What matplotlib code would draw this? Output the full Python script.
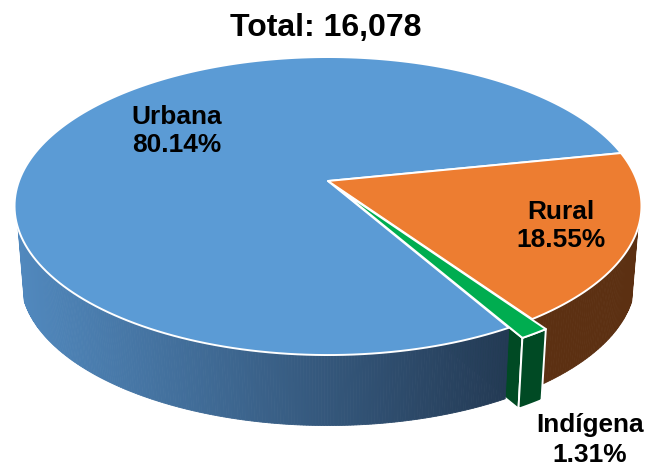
import numpy as np
import matplotlib
matplotlib.use("Agg")
import matplotlib.pyplot as plt

categories = ["Urbana", "Rural", "Indígena"]
shares = [80.14, 18.55, 1.31]
share_labels = ["80.14%", "18.55%", "1.31%"]
title = "Total: 16,078"

plt.rcParams['font.family'] = ['Liberation Sans', 'DejaVu Sans']

# projection of the tilted disc into image pixels
X0, Y0, AX, BY, K = 328.0, 181.0, 309.0, 144.8, 0.168
DEPTH, SCALE = 74.0, 0.98
START = 11.5           # where the Rural slice starts (degrees, clockwise)
EXPLODE = 0.06
SIDE_LEFT, SIDE_RIGHT = -162.0, -18.0

def project(u, v, low=False):
    d = 1 + K * v
    x = AX * u / d
    y = -BY * v / d
    if low:
        return X0 + SCALE * x, Y0 + SCALE * y + DEPTH
    return X0 + x, Y0 + y

def arc(a0, a1, n=200):
    return np.radians(np.linspace(a0, a1, n))

fig = plt.figure(figsize=(6.47, 4.66), dpi=100)
ax = fig.add_axes([0, 0, 1, 1])
ax.set_xlim(0, 647)
ax.set_ylim(466, 0)
ax.axis("off")

spans = {c: s / sum(shares) * 360 for c, s in zip(categories, shares)}
rural0, rural1 = START, START - spans["Rural"]
ind0, ind1 = rural1, rural1 - spans["Indígena"]
urb0, urb1 = ind1, ind1 - spans["Urbana"]
mid = np.radians((ind0 + ind1) / 2)
ox, oy = EXPLODE * np.cos(mid), EXPLODE * np.sin(mid)

WHITE = dict(edgecolor="white", linewidth=1.4, joinstyle="round")

def band(a0, a1, left, right, z, n=160):
    t = arc(a0, a1, n + 1)
    for i in range(n):
        uu = np.cos(t[i:i + 2])
        vv = np.sin(t[i:i + 2])
        xt, yt = project(uu, vv)
        xb, yb = project(uu, vv, True)
        xs = np.r_[xt, xb[::-1]]
        ys = np.r_[yt, yb[::-1]]
        f = np.clip((xs.mean() - 14) / (520 - 14), 0, 1)
        c = (1 - f) * np.array(left) + f * np.array(right)
        ax.fill(xs, ys, color=c, lw=0.6, zorder=z)

# Rural side
band(rural1, SIDE_RIGHT, (0.37, 0.20, 0.075), (0.36, 0.19, 0.07), 1, 60)

# exploded slice: cut face behind the blue slice
a = np.radians(ind1)
cx, cy = project(ox, oy)
ex, ey = project(ox + np.cos(a), oy + np.sin(a))
cx2, cy2 = project(ox, oy, True)
ex2, ey2 = project(ox + np.cos(a), oy + np.sin(a), True)
ax.fill([cx, ex, ex2, cx2], [cy, ey, ey2, cy2], facecolor="#004a24", zorder=2, **WHITE)

# Urbana side
band(SIDE_LEFT, urb0, (0.32, 0.54, 0.75), (0.135, 0.22, 0.32), 3, 220)
xe, ye = project(np.cos(np.radians(urb0)), np.sin(np.radians(urb0)))

def slice_top(a0, a1, color, off=(0, 0), z=4):
    t = arc(a0, a1)
    xs, ys = project(np.r_[off[0], off[0] + np.cos(t)], np.r_[off[1], off[1] + np.sin(t)])
    ax.fill(xs, ys, facecolor=color, zorder=z, **WHITE)

slice_top(urb1, urb0, "#5b9bd5")
slice_top(rural1, rural0, "#ed7d31")

# exploded slice: outer face and top
t = arc(ind1, ind0, 30)
xt, yt = project(ox + np.cos(t), oy + np.sin(t))
xb, yb = project(ox + np.cos(t), oy + np.sin(t), True)
ax.fill(np.r_[xt, xb[::-1]], np.r_[yt, yb[::-1]], facecolor="#004a24", zorder=5, **WHITE)
slice_top(ind1, ind0, "#00ad50", off=(ox, oy), z=6)

# texts
kw = dict(ha="center", va="center", fontweight="bold", color="black", zorder=10)
ax.text(326, 28, title, fontsize=23, **kw)
ax.text(177, 131, f"{categories[0]}\n{share_labels[0]}", fontsize=18.9, linespacing=1.2, **kw)
ax.text(561, 226, f"{categories[1]}\n{share_labels[1]}", fontsize=18.9, linespacing=1.2, **kw)
ax.text(590, 440, f"{categories[2]}\n{share_labels[2]}", fontsize=18.9, linespacing=1.3, **kw)

fig.savefig("out.png", dpi=100, facecolor="white")
